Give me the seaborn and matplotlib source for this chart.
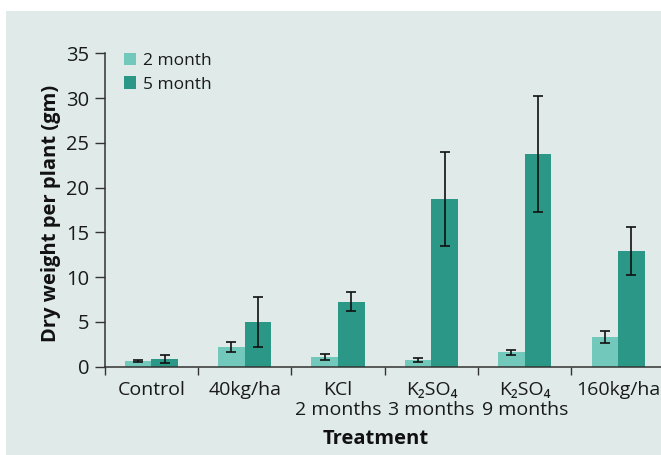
import matplotlib
matplotlib.use("Agg")
import matplotlib.pyplot as plt
import seaborn as sns
import pandas as pd
import numpy as np
from matplotlib.patches import Rectangle, Patch

categories = ["Control", "40kg/ha", "KCl\n2 months", "K\u2082SO\u2084\n3 months", "K\u2082SO\u2084\n9 months", "160kg/ha"]
series = ["2 month", "5 month"]
values_2m = [0.64, 2.20, 1.12, 0.75, 1.64, 3.32]
values_5m = [0.86, 5.03, 7.25, 18.73, 23.75, 12.92]
err_2m = [0.06, 0.52, 0.32, 0.19, 0.28, 0.68]
err_5m = [0.41, 2.80, 1.05, 5.30, 6.48, 2.70]
yticks = [0, 5, 10, 15, 20, 25, 30, 35]

sns.set_theme(style="ticks")
FAM = ["Open Sans", "DejaVu Sans"]
plt.rcParams["font.family"] = FAM

C_LIGHT = "#72c8ba"
C_DARK = "#2a9787"
BG = "#e0ebe9"
AX = "#333333"

df = pd.DataFrame({
    "Treatment": categories * 2,
    "Month": [series[0]] * len(categories) + [series[1]] * len(categories),
    "Value": values_2m + values_5m,
    "Err": err_2m + err_5m,
})

W, H = 661, 455
fig = plt.figure(figsize=(W / 100, H / 100), dpi=100, facecolor="white")
fig.patches.append(Rectangle((6 / W, 0), 1, 1 - 11 / H, transform=fig.transFigure,
                             facecolor=BG, edgecolor="none", zorder=-10))

left, right = 104.6 / W, 664.8 / W
bottom, top = 1 - 366.7 / H, 1 - 53.3 / H
ax = fig.add_axes([left, bottom, right - left, top - bottom])
ax.set_facecolor("none")

sns.barplot(data=df, x="Treatment", y="Value", hue="Month", order=categories,
            hue_order=series, palette=[C_LIGHT, C_DARK], errorbar=None,
            width=0.57, ax=ax, legend=False, linewidth=0, saturation=1)

# error bars at bar centers
for cont, errs in zip(ax.containers, [err_2m, err_5m]):
    for patch, e in zip(cont.patches, errs):
        xc = patch.get_x() + patch.get_width() / 2
        ax.errorbar(xc, patch.get_height(), yerr=e, fmt="none", ecolor="#111111",
                    elinewidth=1.2, capsize=3.7, capthick=1.2, zorder=5)

n = len(categories)
ax.set_xlim(-0.5, n - 0.5)
ax.set_ylim(0, 35)
ax.set_yticks(yticks)
ax.set_yticklabels([str(t) for t in yticks])

ax.set_xticks(np.arange(-0.5, n, 1.0))
ax.set_xticklabels([])
ax.set_xticks(np.arange(n), minor=True)
ax.set_xticklabels(categories, minor=True)
ax.tick_params(axis="x", which="major", direction="out", length=6, width=1, color=AX)
ax.tick_params(axis="x", which="minor", length=0, pad=10, labelsize=14, labelcolor="#1a1a1a")
ax.tick_params(axis="y", direction="out", length=7, width=1, color=AX, pad=4,
               labelsize=14.5, labelcolor="#1a1a1a")
for lbl in ax.get_xticklabels(minor=True):
    lbl.set_linespacing(1.2)

for s in ["top", "right"]:
    ax.spines[s].set_visible(False)
for s in ["left", "bottom"]:
    ax.spines[s].set_color(AX)
    ax.spines[s].set_linewidth(1.1)

ax.set_ylabel("Dry weight per plant (gm)", fontsize=14.5, fontweight="bold", color="#111111")
ax.yaxis.set_label_coords(-0.078, 0.49)
ax.set_xlabel("Treatment", fontsize=14.5, fontweight="bold", color="#111111")
ax.xaxis.set_label_coords(0.4845, -0.198)

handles = [Patch(facecolor=C_LIGHT, edgecolor="none"), Patch(facecolor=C_DARK, edgecolor="none")]
leg = ax.legend(handles, series, loc="upper left", bbox_to_anchor=(0.035, 1.0),
                frameon=False, fontsize=12.5, handlelength=0.7, handleheight=0.7,
                handletextpad=0.4, borderaxespad=0, borderpad=0, labelspacing=0.4)
for t in leg.get_texts():
    t.set_color("#1a1a1a")

fig.savefig("out.png", dpi=100, facecolor="white")
